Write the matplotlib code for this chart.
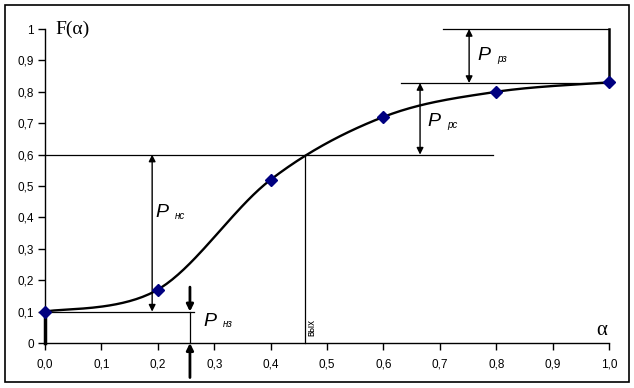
import numpy as np
import matplotlib
matplotlib.use("Agg")
import matplotlib.pyplot as plt
from matplotlib.patches import Rectangle

alpha = [0.0, 0.2, 0.4, 0.6, 0.8, 1.0]
F = [0.10, 0.17, 0.52, 0.72, 0.80, 0.83]
xticks = [0.0, 0.1, 0.2, 0.3, 0.4, 0.5, 0.6, 0.7, 0.8, 0.9, 1.0]
xticklabels = ["0,0", "0,1", "0,2", "0,3", "0,4", "0,5", "0,6", "0,7", "0,8", "0,9", "1,0"]
yticks = [0.0, 0.1, 0.2, 0.3, 0.4, 0.5, 0.6, 0.7, 0.8, 0.9, 1.0]
yticklabels = ["0", "0,1", "0,2", "0,3", "0,4", "0,5", "0,6", "0,7", "0,8", "0,9", "1"]

# annotation levels
F_low, F_mid, F_high, F_top = 0.10, 0.60, 0.828, 1.0
x_out = 0.461

def smooth(xs, ys, n=40):
    P = np.column_stack([xs, ys])
    P = np.vstack([P[0], P, P[-1]])
    out = []
    for i in range(1, len(P) - 2):
        p0, p1, p2, p3 = P[i - 1], P[i], P[i + 1], P[i + 2]
        c1 = p1 + (p2 - p0) / 6
        c2 = p2 - (p3 - p1) / 6
        t = np.linspace(0, 1, n)[:, None]
        seg = (1 - t) ** 3 * p1 + 3 * (1 - t) ** 2 * t * c1 + 3 * (1 - t) * t ** 2 * c2 + t ** 3 * p2
        out.append(seg)
    s = np.vstack(out)
    return s[:, 0], s[:, 1]

plt.rcParams['font.family'] = ['Liberation Sans', 'DejaVu Sans']

fig = plt.figure(figsize=(6.34, 3.88), dpi=100)
fig.patches.append(Rectangle((5 / 634, 6 / 388), 624 / 634, 377 / 388, transform=fig.transFigure,
                             fill=False, edgecolor='black', lw=1.2))
ax = fig.add_axes([45 / 634, 45 / 388, 564 / 634, 314 / 388])
ax.set_xlim(0, 1)
ax.set_ylim(0, 1)
for s in ['top', 'right']:
    ax.spines[s].set_visible(False)
for s in ['left', 'bottom']:
    ax.spines[s].set_linewidth(1.0)
ax.set_xticks(xticks)
ax.set_xticklabels(xticklabels, fontsize=8.5)
ax.set_yticks(yticks)
ax.set_yticklabels(yticklabels, fontsize=8.5)
ax.tick_params(direction='out', length=5, width=1, pad=6)
ax.tick_params(axis='y', pad=3)

sx, sy = smooth(alpha, F)
ax.plot(sx, sy, color='black', lw=1.7, clip_on=False, zorder=3)
ax.plot(alpha, F, linestyle='none', marker='D', markersize=6, color='#000080', clip_on=False, zorder=4)

kw = dict(color='black', lw=0.9, clip_on=False)
# horizontal reference lines
ax.plot([0, 0.265], [F_low, F_low], **kw)
ax.plot([0, 0.794], [F_mid, F_mid], **kw)
ax.plot([0.632, 1.0], [F_high, F_high], **kw)
ax.plot([0.705, 1.0], [F_top, F_top], **kw)
# thick verticals
ax.plot([0, 0], [0, F_low], color='black', lw=2.5, clip_on=False, zorder=2)
ax.plot([1, 1], [F[-1], F_top], color='black', lw=1.8, clip_on=False)
# output line
ax.plot([x_out, x_out], [0, F_mid], **kw)
ax.text(x_out + 0.003, 0.022, "вых", rotation=90, fontsize=7, ha='left', va='bottom')
# thin line at P_нз
ax.plot([0.257, 0.257], [0, F_low], **kw)

def darrow(x, y0, y1):
    ax.annotate('', xy=(x, y1), xytext=(x, y0),
                arrowprops=dict(arrowstyle='<|-|>', color='black', lw=1.0,
                                mutation_scale=10, shrinkA=0, shrinkB=0),
                annotation_clip=False)

def sarrow(x, y0, y1, lw=2.0):
    ax.annotate('', xy=(x, y1), xytext=(x, y0),
                arrowprops=dict(arrowstyle='-|>', color='black', lw=lw,
                                mutation_scale=10, shrinkA=0, shrinkB=0),
                annotation_clip=False)

darrow(0.19, F_low, F_mid)
darrow(0.665, F_mid, F_high)
darrow(0.752, F_high, F_top)
sarrow(0.257, 0.178, F_low)
sarrow(0.257, -0.11, 0.0)

def plabel(x, y, sub):
    ax.text(x, y, "P", fontsize=14, style='italic', ha='left', va='center')
    ax.text(x + 0.036, y - 0.01, sub, fontsize=7, style='italic', ha='left', va='center')

plabel(0.195, 0.415, "нс")
plabel(0.28, 0.07, "нз")
plabel(0.678, 0.705, "рс")
plabel(0.766, 0.916, "рз")

ax.text(0.018, 1.0, "F(α)", fontsize=14, family=['Liberation Serif', 'DejaVu Serif'], ha='left', va='center')
ax.text(0.997, 0.01, "α", fontsize=15, family=['Liberation Serif', 'DejaVu Serif'], ha='right', va='bottom')

fig.savefig("out.png", dpi=100)
